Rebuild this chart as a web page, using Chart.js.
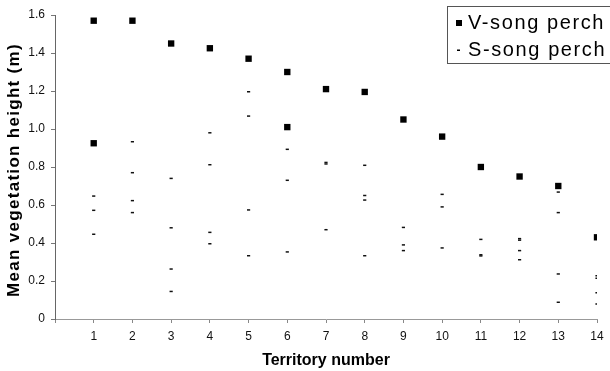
<!DOCTYPE html>
<html>
<head>
<meta charset="utf-8">
<script src="https://cdn.jsdelivr.net/npm/chart.js@4"></script>
<style>
  html, body { margin: 0; padding: 0; background: #fff; }
  #c { display: block; }
</style>
</head>
<body>
<canvas id="c" width="610" height="371"></canvas>
<script>
// データ
const yTicks = [0, 0.2, 0.4, 0.6, 0.8, 1, 1.2, 1.4, 1.6];
const territories = [1, 2, 3, 4, 5, 6, 7, 8, 9, 10, 11, 12, 13, 14];

// V-song perch
const vSongX = [1, 1, 2, 3, 4, 5, 6, 6, 7, 8, 9, 10, 11, 12, 13, 14];
const vSongY = [1.57, 0.925, 1.57, 1.45, 1.425, 1.37, 1.30, 1.01, 1.21, 1.195, 1.05, 0.96, 0.80, 0.75, 0.70, 0.43];

// S-song perch
const sSongX = [
  1, 1, 1,
  2, 2, 2, 2,
  3, 3, 3, 3,
  4, 4, 4, 4,
  5, 5, 5, 5,
  6, 6, 6,
  7, 7, 7,
  8, 8, 8, 8,
  9, 9, 9,
  10, 10, 10,
  11, 11, 11,
  12, 12, 12, 12,
  13, 13, 13, 13,
  14, 14, 14, 14
];
const sSongY = [
  0.647, 0.572, 0.446,
  0.933, 0.77, 0.623, 0.56,
  0.74, 0.48, 0.263, 0.145,
  0.98, 0.812, 0.456, 0.396,
  1.196, 1.068, 0.574, 0.333,
  0.893, 0.73, 0.353,
  0.824, 0.816, 0.47,
  0.809, 0.65, 0.626, 0.333,
  0.482, 0.39, 0.36,
  0.656, 0.59, 0.374,
  0.419, 0.338, 0.332,
  0.423, 0.415, 0.36, 0.312,
  0.668, 0.56, 0.237, 0.088,
  0.228, 0.214, 0.138, 0.079
];

const yTitle = "Mean vegetation height (m)";
const FONT = "'Liberation Sans', Arial, sans-serif";

function toPoints(xs, ys) {
  return xs.map((x, i) => ({ x: x, y: ys[i] }));
}

// 凡例（右上の枠付き）と縦軸タイトルを自前で描く
const boxLegend = {
  id: "boxLegend",
  afterDraw(chart) {
    const ctx = chart.ctx;
    const sets = chart.data.datasets;
    const area = chart.chartArea;
    ctx.save();
    ctx.strokeStyle = "#555";
    ctx.lineWidth = 1;
    ctx.strokeRect(447.5, 6.5, 200, 57);
    ctx.font = "20px " + FONT;
    ctx.letterSpacing = "1.6px";
    ctx.fillStyle = "#000";
    ctx.textBaseline = "alphabetic";
    ctx.textAlign = "left";
    sets.forEach((ds, i) => {
      const y = 23 + i * 27;
      if (ds.pointStyle === "rect") {
        ctx.fillRect(456, y - 3, 6, 6);
      } else {
        ctx.fillRect(457, y - 0.5, 3, 1.5);
      }
      ctx.fillText(ds.label, 468, y + 5.5);
    });
    ctx.restore();

    // 縦軸タイトル
    ctx.save();
    ctx.translate(14, (area.top + area.bottom) / 2 + 3);
    ctx.rotate(-Math.PI / 2);
    ctx.font = "bold 17px " + FONT;
    ctx.letterSpacing = "1.3px";
    ctx.fillStyle = "#000";
    ctx.textAlign = "center";
    ctx.textBaseline = "middle";
    ctx.fillText(yTitle, 0, 0);
    ctx.restore();
  }
};

const config = {
  type: "scatter",
  data: {
    datasets: [
      {
        label: "V-song perch",
        data: toPoints(vSongX, vSongY),
        pointStyle: "rect",
        pointRadius: 4.5,
        backgroundColor: "#000",
        borderWidth: 0
      },
      {
        label: "S-song perch",
        data: toPoints(sSongX, sSongY),
        pointStyle: "line",
        pointRadius: 1.6,
        borderWidth: 1.5,
        borderColor: "#111"
      }
    ]
  },
  options: {
    responsive: false,
    animation: false,
    devicePixelRatio: 1,
    layout: { padding: { top: 15, right: 13, left: 0, bottom: 0 } },
    plugins: {
      legend: { display: false },
      tooltip: { enabled: false }
    },
    scales: {
      x: {
        type: "linear",
        min: 0,
        max: territories[territories.length - 1],
        afterBuildTicks(scale) {
          scale.ticks = [0].concat(territories).map(v => ({ value: v }));
        },
        ticks: {
          callback: v => (v === 0 ? "" : v),
          font: { family: FONT, size: 12 },
          color: "#111",
          padding: 6,
          maxRotation: 0,
          autoSkip: false
        },
        grid: { drawOnChartArea: false, drawTicks: true, tickLength: 4, tickColor: "#888" },
        border: { color: "#999", width: 1 },
        title: {
          display: true,
          text: "Territory number",
          font: { family: FONT, size: 16, weight: "bold" },
          color: "#000",
          padding: { top: 0, bottom: 1 }
        },
        afterFit(scale) { scale.height = 52; }
      },
      y: {
        min: yTicks[0],
        max: yTicks[yTicks.length - 1],
        afterBuildTicks(scale) {
          scale.ticks = yTicks.map(v => ({ value: v }));
        },
        ticks: {
          font: { family: FONT, size: 12 },
          color: "#111",
          padding: 6
        },
        grid: { drawOnChartArea: false, drawTicks: true, tickLength: 4, tickColor: "#777" },
        border: { color: "#666", width: 1 },
        afterFit(scale) { scale.width = 55; }
      }
    }
  },
  plugins: [boxLegend]
};

new Chart(document.getElementById("c").getContext("2d"), config);
</script>
</body>
</html>
